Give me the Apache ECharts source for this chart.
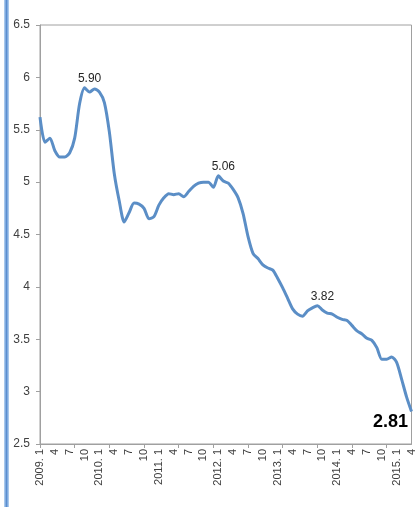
<!DOCTYPE html>
<html>
<head>
<meta charset="utf-8">
<script src="https://cdn.jsdelivr.net/npm/echarts@6/dist/echarts.min.js"></script>
<style>
html,body{margin:0;padding:0;background:#fff;}
#c{width:417px;height:507px;}
</style>
</head>
<body>
<div id="c"></div>
<script>
// Months from 2009.1 to 2015.4
var years = [2009, 2010, 2011, 2012, 2013, 2014, 2015];
var lastMonth2015 = 4;
var values = [
  5.62, 5.38, 5.42, 5.30, 5.24, 5.24, 5.28, 5.42, 5.75, 5.90, 5.86, 5.89,
  5.86, 5.76, 5.48, 5.08, 4.82, 4.62, 4.71, 4.80, 4.79, 4.75, 4.65, 4.67,
  4.78, 4.85, 4.89, 4.88, 4.89, 4.86, 4.91, 4.96, 4.99, 5.00, 5.00, 4.95,
  5.06, 5.01, 4.99, 4.93, 4.85, 4.70, 4.48, 4.32, 4.27, 4.21, 4.18, 4.16,
  4.08, 3.99, 3.89, 3.79, 3.74, 3.72, 3.77, 3.80, 3.82, 3.78, 3.75, 3.74,
  3.71, 3.69, 3.68, 3.63, 3.58, 3.55, 3.51, 3.49, 3.42, 3.31, 3.31, 3.33,
  3.28, 3.12, 2.95, 2.81
];
var labeledIdx = [9, 36, 56];
var lastIdx = values.length - 1;

var categories = [];
years.forEach(function (y) {
  var mMax = (y === 2015) ? lastMonth2015 : 12;
  for (var m = 1; m <= mMax; m++) categories.push(y + '.' + m);
});

var fmt2 = function (p) { return Number(p.value).toFixed(2); };
var seriesData = values.map(function (v, i) {
  if (labeledIdx.indexOf(i) >= 0) {
    return { value: v, label: { show: true, position: 'top', distance: 3, offset: [5, 0], formatter: fmt2 } };
  }
  if (i === lastIdx) {
    return { value: v, label: { show: true, position: 'left', distance: 3, offset: [0, 11], fontSize: 18, fontWeight: 'bold', color: '#000', formatter: fmt2 } };
  }
  return v;
});

var chart = echarts.init(document.getElementById('c'), null, { renderer: 'canvas' });
chart.setOption({
  animation: false,
  backgroundColor: '#fff',
  textStyle: { fontFamily: 'Liberation Sans, Arial, sans-serif' },
  graphic: [
    { type: 'rect', shape: { x: 4, y: 0, width: 5, height: 507 }, style: { fill: '#a8c8ec' } },
    { type: 'rect', shape: { x: 5.5, y: 0, width: 2, height: 507 }, style: { fill: '#5a8ed0' } }
  ],
  grid: { left: 40, right: 5, top: 25, bottom: 63, show: true, borderColor: '#a0a0a0', borderWidth: 1 },
  xAxis: {
    type: 'category',
    data: categories,
    boundaryGap: false,
    axisLine: { lineStyle: { color: '#a0a0a0' } },
    axisTick: { show: true, interval: 6, length: 4, lineStyle: { color: '#a0a0a0' } },
    axisLabel: {
      interval: 2,
      rotate: 90,
      fontSize: 11,
      color: '#404040',
      margin: 5,
      formatter: function (v) {
        var parts = v.split('.');
        return parts[1] === '1' ? parts[0] + '. 1' : parts[1];
      }
    },
    splitLine: { show: false }
  },
  yAxis: {
    type: 'value',
    min: 2.5,
    max: 6.5,
    interval: 0.5,
    axisLine: { show: true, lineStyle: { color: '#a0a0a0' } },
    axisTick: { show: true, length: 4, lineStyle: { color: '#a0a0a0' } },
    axisLabel: { fontSize: 12, color: '#404040', margin: 10 },
    splitLine: { show: false }
  },
  series: [{
    type: 'line',
    data: seriesData,
    smooth: 0.25,
    showSymbol: true,
    symbol: 'circle',
    symbolSize: 1,
    itemStyle: { color: 'rgba(0,0,0,0)' },
    lineStyle: { color: '#5b8ec6', width: 3 },
    label: { show: false, fontSize: 12, color: '#262626' }
  }]
});
</script>
</body>
</html>
